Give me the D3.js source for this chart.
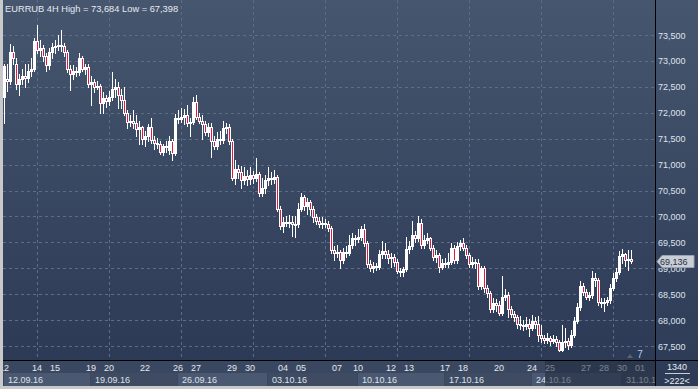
<!DOCTYPE html>
<html>
<head>
<meta charset="utf-8">
<script src="https://cdn.jsdelivr.net/npm/d3@7"></script>
<style>
    html, body { margin: 0; padding: 0; background: #c9c9c9; }
    svg { display: block; font-family: "Liberation Sans", Arial, sans-serif; }
</style>
</head>
<body>
<svg id="chart" width="698" height="389"></svg>
<script>
const TITLE = 'EURRUB 4H High = 73,684 Low = 67,398';

// 4H bars, left to right
const opens = [
    72.30, 72.66, 72.62, 73.18, 72.95, 72.55, 72.65, 72.70, 72.68, 72.80,
    72.85, 73.38, 73.22, 73.25, 73.10, 72.92, 73.18, 73.26, 73.28, 73.30,
    73.28, 73.18, 72.85, 72.75, 72.80, 72.78, 73.05, 72.85, 72.88, 72.55,
    72.60, 72.50, 72.52, 72.18, 72.28, 72.22, 72.30, 72.45, 72.50, 72.35,
    72.25, 72.00, 71.82, 71.85, 71.80, 71.68, 71.72, 71.50, 71.55, 71.72,
    71.48, 71.42, 71.40, 71.25, 71.35, 71.28, 71.46, 71.22, 71.90, 71.88,
    71.92, 71.96, 71.80, 71.83, 72.20, 71.92, 71.85, 71.78, 71.62, 71.72,
    71.45, 71.35, 71.50, 71.48, 71.70, 71.72, 71.45, 70.75, 70.92, 70.85,
    70.70, 70.78, 70.72, 70.80, 70.75, 70.82, 70.45, 70.55, 70.70, 70.75,
    70.72, 70.76, 70.15, 69.82, 69.90, 69.88, 69.90, 69.86, 69.85, 70.15,
    70.38, 70.20, 70.28, 70.15, 69.98, 69.92, 69.85, 69.88, 69.86, 69.78,
    69.35, 69.30, 69.32, 69.15, 69.32, 69.30, 69.45, 69.58, 69.56, 69.60,
    69.75, 69.48, 69.08, 69.00, 69.05, 69.02, 69.28, 69.33, 69.28, 69.20,
    69.22, 69.12, 68.95, 68.92, 68.98, 69.38, 69.42, 69.65, 69.58, 69.88,
    69.45, 69.55, 69.58, 69.40, 69.22, 69.25, 69.02, 69.10, 69.08, 69.12,
    69.40, 69.15, 69.42, 69.48, 69.40, 69.25, 69.08, 69.12, 69.10, 68.66,
    69.00, 68.62, 68.52, 68.22, 68.32, 68.30, 68.14, 68.45, 68.48, 68.22,
    68.12, 68.05, 67.92, 67.90, 67.88, 67.92, 67.85, 67.98, 67.92, 67.72,
    67.65, 67.62, 67.65, 67.60, 67.64, 67.57, 67.43, 67.58, 67.60, 67.52,
    67.72, 67.98, 68.25, 68.66, 68.55, 68.45, 68.48, 68.82, 68.78, 68.35,
    68.32, 68.35, 68.38, 68.62, 68.82, 68.92, 69.24, 69.28, 69.15, 69.18,
];
const highs = [
    72.95, 72.95, 73.32, 73.28, 73.05, 72.75, 72.85, 72.95, 72.95, 73.05,
    73.45, 73.684, 73.40, 73.30, 73.15, 73.25, 73.35, 73.40, 73.50, 73.60,
    73.35, 73.22, 72.92, 72.92, 72.88, 73.15, 73.10, 72.95, 72.95, 72.70,
    72.65, 72.62, 72.55, 72.40, 72.35, 72.42, 72.78, 72.65, 72.60, 72.45,
    72.50, 72.05, 71.95, 72.05, 71.95, 71.85, 71.75, 71.65, 71.78, 71.90,
    71.55, 71.52, 71.45, 71.40, 71.45, 71.55, 71.50, 71.98, 72.05, 72.10,
    72.08, 72.15, 71.90, 72.30, 72.34, 72.00, 71.95, 71.85, 71.80, 71.80,
    71.55, 71.62, 71.65, 71.85, 71.80, 71.78, 71.50, 71.08, 71.00, 70.98,
    70.95, 70.90, 70.95, 70.88, 71.12, 70.85, 70.75, 70.80, 70.95, 70.85,
    70.90, 70.80, 70.20, 69.98, 70.00, 70.02, 70.00, 70.00, 70.25, 70.45,
    70.42, 70.35, 70.32, 70.20, 70.05, 69.98, 69.98, 69.95, 69.92, 69.82,
    69.42, 69.45, 69.35, 69.40, 69.42, 69.65, 69.68, 69.65, 69.75, 69.82,
    69.85, 69.52, 69.15, 69.12, 69.10, 69.35, 69.53, 69.48, 69.35, 69.30,
    69.28, 69.18, 69.00, 69.02, 69.60, 69.52, 69.92, 69.72, 70.00, 69.95,
    69.65, 69.68, 69.60, 69.45, 69.35, 69.30, 69.18, 69.20, 69.30, 69.48,
    69.45, 69.50, 69.55, 69.58, 69.45, 69.30, 69.22, 69.18, 69.18, 69.05,
    69.05, 68.68, 68.56, 68.42, 68.40, 68.36, 68.85, 68.60, 68.55, 68.28,
    68.18, 68.10, 68.08, 68.00, 68.05, 68.02, 68.10, 68.05, 68.08, 67.90,
    67.72, 67.75, 67.70, 67.72, 67.70, 67.62, 67.90, 67.85, 67.65, 67.80,
    68.05, 68.32, 68.75, 68.72, 68.60, 68.55, 68.95, 68.90, 68.82, 68.42,
    68.42, 68.45, 68.70, 68.90, 69.00, 69.33, 69.38, 69.30, 69.35, 69.35,
];
const lows = [
    71.80, 72.42, 72.55, 72.95, 72.45, 72.35, 72.55, 72.50, 72.60, 72.70,
    72.80, 73.15, 73.10, 73.00, 72.80, 72.85, 73.05, 73.15, 73.22, 73.20,
    73.10, 72.78, 72.43, 72.65, 72.70, 72.72, 72.80, 72.75, 72.50, 72.14,
    72.40, 72.45, 71.99, 72.00, 72.12, 72.15, 72.25, 72.30, 72.10, 72.10,
    71.95, 71.70, 71.75, 71.70, 71.55, 71.40, 71.40, 71.35, 71.45, 71.42,
    71.30, 71.32, 71.20, 71.18, 71.25, 71.20, 71.08, 71.18, 71.80, 71.82,
    71.78, 71.75, 71.56, 71.78, 71.88, 71.80, 71.50, 71.58, 71.55, 71.15,
    71.30, 71.30, 71.40, 71.42, 71.60, 71.40, 70.70, 70.62, 70.75, 70.55,
    70.62, 70.60, 70.62, 70.65, 70.68, 70.40, 70.40, 70.45, 70.60, 70.62,
    70.65, 70.10, 69.75, 69.70, 69.82, 69.80, 69.62, 69.60, 69.80, 70.10,
    70.12, 70.05, 70.02, 69.90, 69.85, 69.80, 69.78, 69.80, 69.72, 69.30,
    69.15, 69.22, 69.00, 69.10, 69.22, 69.25, 69.40, 69.45, 69.50, 69.55,
    69.42, 69.02, 68.95, 68.92, 68.96, 68.98, 69.20, 69.20, 69.10, 69.02,
    69.05, 68.90, 68.85, 68.86, 68.95, 69.30, 69.38, 69.50, 69.52, 69.40,
    69.40, 69.48, 69.35, 69.15, 69.12, 68.92, 68.98, 69.02, 69.02, 69.08,
    69.10, 69.10, 69.35, 69.35, 69.20, 69.02, 69.02, 69.00, 68.60, 68.60,
    68.55, 68.45, 68.15, 68.15, 68.18, 68.10, 68.10, 68.38, 68.05, 68.05,
    67.98, 67.85, 67.82, 67.80, 67.82, 67.70, 67.80, 67.85, 67.60, 67.58,
    67.55, 67.55, 67.52, 67.55, 67.50, 67.398, 67.40, 67.48, 67.45, 67.48,
    67.68, 67.95, 68.20, 68.48, 68.40, 68.38, 68.42, 68.65, 68.30, 68.25,
    68.18, 68.30, 68.32, 68.58, 68.75, 68.88, 69.10, 69.05, 68.96, 69.10,
];
const closes = [
    72.90, 72.62, 73.18, 73.05, 72.55, 72.65, 72.70, 72.68, 72.80, 72.85,
    73.38, 73.22, 73.25, 73.10, 72.92, 73.18, 73.26, 73.28, 73.30, 73.28,
    73.18, 72.85, 72.75, 72.80, 72.78, 73.05, 72.85, 72.88, 72.55, 72.60,
    72.50, 72.52, 72.18, 72.28, 72.22, 72.30, 72.45, 72.50, 72.35, 72.25,
    72.00, 71.82, 71.85, 71.80, 71.68, 71.72, 71.50, 71.55, 71.72, 71.48,
    71.42, 71.40, 71.25, 71.35, 71.33, 71.46, 71.22, 71.90, 71.88, 71.92,
    71.96, 71.80, 71.83, 72.20, 71.92, 71.85, 71.78, 71.62, 71.72, 71.45,
    71.35, 71.50, 71.48, 71.70, 71.72, 71.45, 70.75, 70.92, 70.85, 70.70,
    70.78, 70.72, 70.80, 70.75, 70.82, 70.45, 70.55, 70.70, 70.75, 70.72,
    70.76, 70.15, 69.82, 69.90, 69.88, 69.90, 69.86, 69.85, 70.15, 70.38,
    70.20, 70.28, 70.15, 69.98, 69.92, 69.85, 69.88, 69.86, 69.78, 69.35,
    69.30, 69.32, 69.15, 69.32, 69.30, 69.45, 69.58, 69.56, 69.60, 69.75,
    69.48, 69.08, 69.00, 69.05, 69.02, 69.28, 69.33, 69.28, 69.20, 69.22,
    69.12, 68.95, 68.92, 68.98, 69.38, 69.42, 69.65, 69.58, 69.88, 69.45,
    69.55, 69.58, 69.40, 69.22, 69.25, 69.02, 69.10, 69.08, 69.12, 69.40,
    69.15, 69.42, 69.48, 69.40, 69.25, 69.08, 69.12, 69.10, 68.66, 69.00,
    68.62, 68.52, 68.22, 68.32, 68.30, 68.14, 68.45, 68.48, 68.22, 68.12,
    68.05, 67.92, 67.90, 67.88, 67.92, 67.85, 67.98, 67.92, 67.72, 67.65,
    67.62, 67.65, 67.60, 67.64, 67.57, 67.43, 67.58, 67.60, 67.52, 67.72,
    67.98, 68.25, 68.66, 68.55, 68.45, 68.48, 68.82, 68.78, 68.35, 68.32,
    68.35, 68.38, 68.62, 68.82, 68.92, 69.24, 69.28, 69.15, 69.18, 69.136,
];

const priceTicks = [67.5, 68, 68.5, 69, 69.5, 70, 70.5, 71, 71.5, 72, 72.5, 73, 73.5];
const lastPrice = 69.136;

// first bar of each labelled day / week
const dayLabels = ['12', '14', '15', '19', '20', '22', '26', '27', '29', '30', '04', '05', '07',
    '10', '12', '13', '17', '18', '20', '24', '25', '27', '28', '30', '01'];
const dayIndex = [-3, 8, 14, 26, 32, 44, 55, 61, 73, 79, 90, 96, 108,
    115, 126, 132, 144, 150, 162, 173, 179, 191, 197, 203, 209];
const weekLabels = ['12.09.16', '19.09.16', '26.09.16', '03.10.16', '10.10.16', '17.10.16', '24.10.16', '31.10.16'];
const weekIndex = [-3, 26, 55, 85, 115, 144, 173, 203];
const gridIndex = [11, 35, 59, 83, 107, 131, 155, 179, 203];

const plot = { left: 3, right: 655, top: 0, bottom: 360 };
const frameBottom = 386;
const labelShift = 9;
const bullStroke = '#ffffff';
const bearFill = '#e3173f';

const svg = d3.select('#chart');
const defs = svg.append('defs');

const bg = defs.append('linearGradient').attr('id', 'bg').attr('x1', 0).attr('y1', 0).attr('x2', 0).attr('y2', 1);
bg.append('stop').attr('offset', '0%').attr('stop-color', '#47566f');
bg.append('stop').attr('offset', '100%').attr('stop-color', '#2c3a55');

defs.append('clipPath').attr('id', 'plotClip')
    .append('rect')
    .attr('x', plot.left).attr('y', plot.top)
    .attr('width', plot.right - plot.left).attr('height', plot.bottom - plot.top);
defs.append('clipPath').attr('id', 'axisClip')
    .append('rect')
    .attr('x', plot.left).attr('y', plot.bottom)
    .attr('width', plot.right - plot.left).attr('height', frameBottom - plot.bottom);

const x = d3.scaleLinear().domain([0, closes.length - 1]).range([4, 631]);
const y = d3.scaleLinear().domain([67.5, 73.5]).range([346, 35]);
const fmt = (v) => v.toFixed(3).replace('.', ',');
const px = (v) => Math.round(v);

// panels
svg.append('rect').attr('x', plot.left).attr('y', 0)
    .attr('width', plot.right - plot.left).attr('height', plot.bottom)
    .attr('fill', 'url(#bg)');
svg.append('rect').attr('x', plot.right).attr('y', 0)
    .attr('width', 698 - plot.right).attr('height', frameBottom)
    .attr('fill', 'url(#bg)');
svg.append('rect').attr('x', plot.left).attr('y', plot.bottom)
    .attr('width', plot.right - plot.left).attr('height', frameBottom - plot.bottom)
    .attr('fill', '#3a4760');

// grid
const grid = svg.append('g').attr('clip-path', 'url(#plotClip)')
    .attr('stroke', '#5d6d88').attr('stroke-dasharray', '3,3').attr('shape-rendering', 'crispEdges');
grid.selectAll('.hgrid').data(priceTicks).enter().append('line')
    .attr('class', 'hgrid')
    .attr('x1', plot.left).attr('x2', plot.right)
    .attr('y1', (d) => px(y(d)) + 0.5).attr('y2', (d) => px(y(d)) + 0.5);
grid.selectAll('.vgrid').data(gridIndex).enter().append('line')
    .attr('class', 'vgrid')
    .attr('y1', plot.top).attr('y2', plot.bottom)
    .attr('x1', (d) => px(x(d)) + 0.5).attr('x2', (d) => px(x(d)) + 0.5);

// candles
const bars = closes.map((c, i) => ({ i: i, o: opens[i], h: highs[i], l: lows[i], c: c }));
const candles = svg.append('g').attr('clip-path', 'url(#plotClip)').attr('shape-rendering', 'crispEdges');
const candle = candles.selectAll('.candle').data(bars).enter().append('g').attr('class', 'candle');

candle.append('line')
    .attr('x1', (d) => px(x(d.i)) + 0.5).attr('x2', (d) => px(x(d.i)) + 0.5)
    .attr('y1', (d) => px(y(d.h))).attr('y2', (d) => px(y(d.l)) + 1)
    .attr('stroke', bullStroke);

candle.append('rect')
    .attr('x', (d) => px(x(d.i)) - 0.5)
    .attr('y', (d) => px(y(Math.max(d.o, d.c))) + 0.5)
    .attr('width', 2)
    .attr('height', (d) => Math.max(1, px(y(Math.min(d.o, d.c))) - px(y(Math.max(d.o, d.c)))))
    .attr('fill', (d) => (d.c < d.o ? bearFill : '#ffffff'))
    .attr('stroke', bullStroke);

// title
svg.append('text').attr('x', 5).attr('y', 12)
    .attr('font-size', 9.3).attr('fill', '#e6eaf0')
    .text(TITLE);

// price axis (the last-price marker covers part of the 69,000 label, as in the terminal)
svg.append('g').selectAll('text').data(priceTicks.filter((d) => Math.abs(y(d) - y(lastPrice)) > 9)).enter().append('text')
    .attr('x', 658).attr('y', (d) => y(d) + 3.5)
    .attr('font-size', 9).attr('fill', '#dde4ee')
    .text(fmt);

// last price marker
const my = px(y(lastPrice)) + 0.5;
svg.append('path')
    .attr('d', `M${plot.right + 2},${my} L${plot.right + 7},${my - 6} L694,${my - 6} L694,${my + 6} L${plot.right + 7},${my + 6} Z`)
    .attr('fill', '#c9ced6').attr('stroke', '#9aa2ae');
svg.append('text').attr('x', 660).attr('y', my + 3.5)
    .attr('font-size', 9).attr('fill', '#27303f')
    .text(fmt(lastPrice));
// visible lower part of the covered 69,000 label
defs.append('clipPath').attr('id', 'underMarker')
    .append('rect').attr('x', plot.right + 1).attr('y', my + 6.5).attr('width', 40).attr('height', 10);
svg.append('text').attr('x', 658).attr('y', y(69) + 3.5)
    .attr('clip-path', 'url(#underMarker)')
    .attr('font-size', 9).attr('fill', '#dde4ee')
    .text(fmt(69));

// time axis
const tx = (i) => x(i) + labelShift;
const axis = svg.append('g').attr('clip-path', 'url(#axisClip)');
axis.selectAll('.week').data(weekIndex).enter().append('rect')
    .attr('class', 'week')
    .attr('x', (d) => px(tx(d)))
    .attr('y', 373)
    .attr('width', (d, k) => px(k + 1 < weekIndex.length ? tx(weekIndex[k + 1]) : plot.right) - px(tx(d)) - 1)
    .attr('height', 13)
    .attr('fill', (d, k) => (k % 2 === 0 ? '#4b5871' : '#3f4b63'));
axis.selectAll('.weeklabel').data(weekLabels).enter().append('text')
    .attr('class', 'weeklabel')
    .attr('x', (d, k) => Math.max(plot.left, px(tx(weekIndex[k]))) + 4)
    .attr('y', 383)
    .attr('font-size', 9).attr('fill', '#dde2ea')
    .text((d) => d);
axis.selectAll('.daylabel').data(dayLabels).enter().append('text')
    .attr('class', 'daylabel')
    .attr('x', (d, k) => tx(dayIndex[k]))
    .attr('y', 371)
    .attr('text-anchor', 'middle')
    .attr('font-size', 9).attr('fill', '#e4e8ee')
    .text((d) => d);
// shaded scroll region
axis.append('rect')
    .attr('x', 545).attr('y', plot.bottom)
    .attr('width', plot.right - 545).attr('height', frameBottom - plot.bottom)
    .attr('fill', '#1f2a3d').attr('fill-opacity', 0.55);

// frame lines
svg.append('line').attr('x1', plot.left).attr('x2', 698)
    .attr('y1', plot.bottom + 0.5).attr('y2', plot.bottom + 0.5)
    .attr('stroke', '#000');
svg.append('line').attr('x1', plot.right + 0.5).attr('x2', plot.right + 0.5)
    .attr('y1', 0).attr('y2', frameBottom)
    .attr('stroke', '#000');

// corner info
svg.append('path')
    .attr('d', 'M627,358 L630,354 L633,358 Z')
    .attr('fill', '#5a6374');
svg.append('text').attr('x', 640).attr('y', 358)
    .attr('text-anchor', 'middle').attr('font-size', 10).attr('fill', '#a8d0ff')
    .text('7');
svg.append('text').attr('x', 677).attr('y', 370)
    .attr('text-anchor', 'middle').attr('font-size', 9).attr('fill', '#e8ecf2')
    .text('1340');
svg.append('line').attr('x1', 665).attr('x2', 690)
    .attr('y1', 373.5).attr('y2', 373.5)
    .attr('stroke', '#c8ced8');
svg.append('text').attr('x', 677).attr('y', 384)
    .attr('text-anchor', 'middle').attr('font-size', 9).attr('fill', '#e8ecf2')
    .text('>222<');
</script>
</body>
</html>
